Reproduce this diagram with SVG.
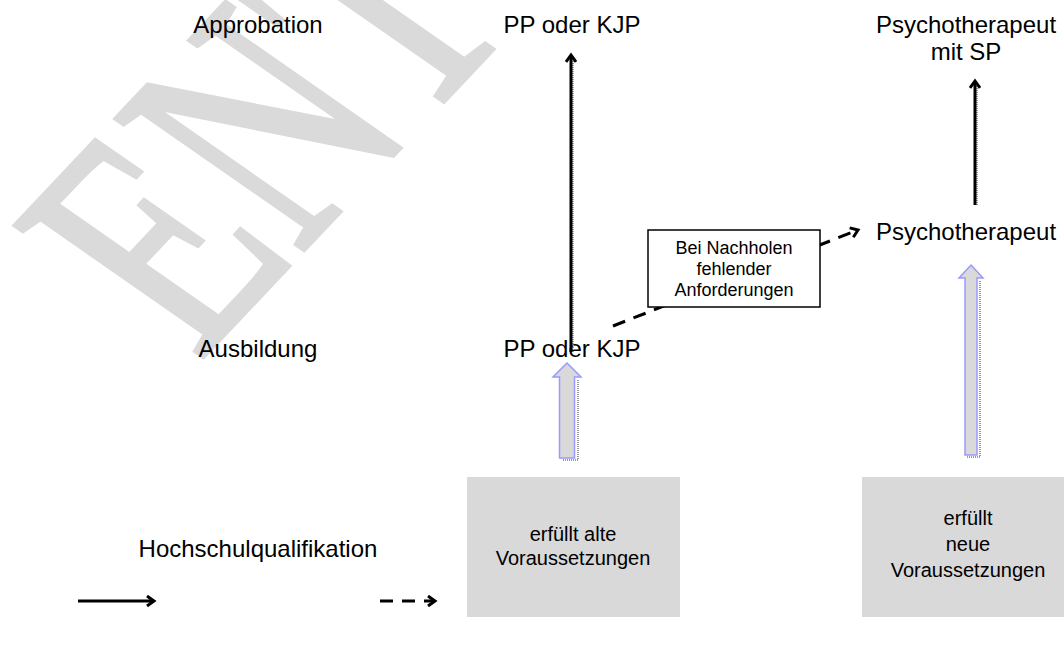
<svg xmlns="http://www.w3.org/2000/svg" width="1064" height="652" viewBox="0 0 1064 652">
<style>
.lbl{font-family:"Liberation Sans",Arial,sans-serif;font-size:24px;fill:#000;text-anchor:middle}
.sm{font-family:"Liberation Sans",Arial,sans-serif;font-size:18px;fill:#000;text-anchor:middle}
.bx{font-family:"Liberation Sans",Arial,sans-serif;font-size:20px;fill:#000;text-anchor:middle}
.solid{stroke:#000;stroke-width:3;fill:none}
.dash{stroke:#000;stroke-width:3;fill:none;stroke-dasharray:13 9}
.shadow{stroke:#9a9a9a;stroke-width:2;fill:none;stroke-dasharray:1 1}
.gbox{fill:#d9d9d9}
.barrow{fill:#d9d9d9;stroke:#9999ff;stroke-width:1.5}
.wm{font-family:"Liberation Serif","Times New Roman",serif;font-size:100px;fill:#dadada;stroke:#dadada;stroke-width:1.5}
</style>
<defs>
<marker id="ah" markerWidth="12" markerHeight="12" refX="9" refY="6" orient="auto" markerUnits="userSpaceOnUse">
<path d="M2,1 L9,6 L2,11" fill="none" stroke="#000" stroke-width="3"/>
</marker>
</defs>
<g id="watermark">
<text class="wm" transform="matrix(1.65,-1.75,2.87,2.0,198,362)">ENTWURF</text>
</g>
<g id="row-labels">
<text class="lbl" x="258" y="33">Approbation</text>
<text class="lbl" x="258" y="357">Ausbildung</text>
<text class="lbl" x="258" y="557">Hochschulqualifikation</text>
</g>
<g id="n-pp-approb"><text class="lbl" x="572" y="33">PP oder KJP</text></g>
<g id="n-pt-sp"><text class="lbl" x="966" y="33">Psychotherapeut</text><text class="lbl" x="966" y="60">mit SP</text></g>
<g id="n-pp-ausb"><text class="lbl" x="572" y="357">PP oder KJP</text></g>
<g id="n-pt"><text class="lbl" x="966" y="240">Psychotherapeut</text></g>
<g id="n-alt"><rect class="gbox" x="467" y="477" width="213" height="140"/><text class="bx" x="573" y="541">erfüllt alte</text><text class="bx" x="573" y="565">Voraussetzungen</text></g>
<g id="n-neu"><rect class="gbox" x="862" y="477" width="213" height="140"/><text class="bx" x="968" y="525">erfüllt</text><text class="bx" x="968" y="551">neue</text><text class="bx" x="968" y="577">Voraussetzungen</text></g>
<g id="connectors">
<line class="shadow" x1="573" y1="352" x2="573" y2="58"/>
<line class="solid" x1="571" y1="352" x2="571" y2="55" marker-end="url(#ah)"/>
<line class="shadow" x1="977" y1="205" x2="977" y2="84"/>
<line class="solid" x1="975" y1="205" x2="975" y2="81" marker-end="url(#ah)"/>
<line class="dash" x1="613" y1="326" x2="858" y2="230" marker-end="url(#ah)"/>
<path class="shadow" d="M578,380 V460 H563"/>
<path class="barrow" d="M567,363 L581,377 L574.5,377 L574.5,458 L559.5,458 L559.5,377 L553,377 Z"/>
<path class="shadow" d="M980,281 V457 H967"/>
<path class="barrow" d="M971,265 L983,278 L977,278 L977,455 L965,455 L965,278 L959,278 Z"/>
</g>
<g id="n-note"><rect x="648" y="230" width="172" height="77" fill="#fff" stroke="#000" stroke-width="1.5"/><text class="sm" x="734" y="254">Bei Nachholen</text><text class="sm" x="734" y="275">fehlender</text><text class="sm" x="734" y="296">Anforderungen</text></g>
<g id="legend">
<line class="solid" x1="78" y1="601" x2="154" y2="601" marker-end="url(#ah)"/>
<line class="dash" x1="380" y1="601" x2="435" y2="601" stroke-dasharray="12 8" marker-end="url(#ah)"/>
</g>
</svg>
